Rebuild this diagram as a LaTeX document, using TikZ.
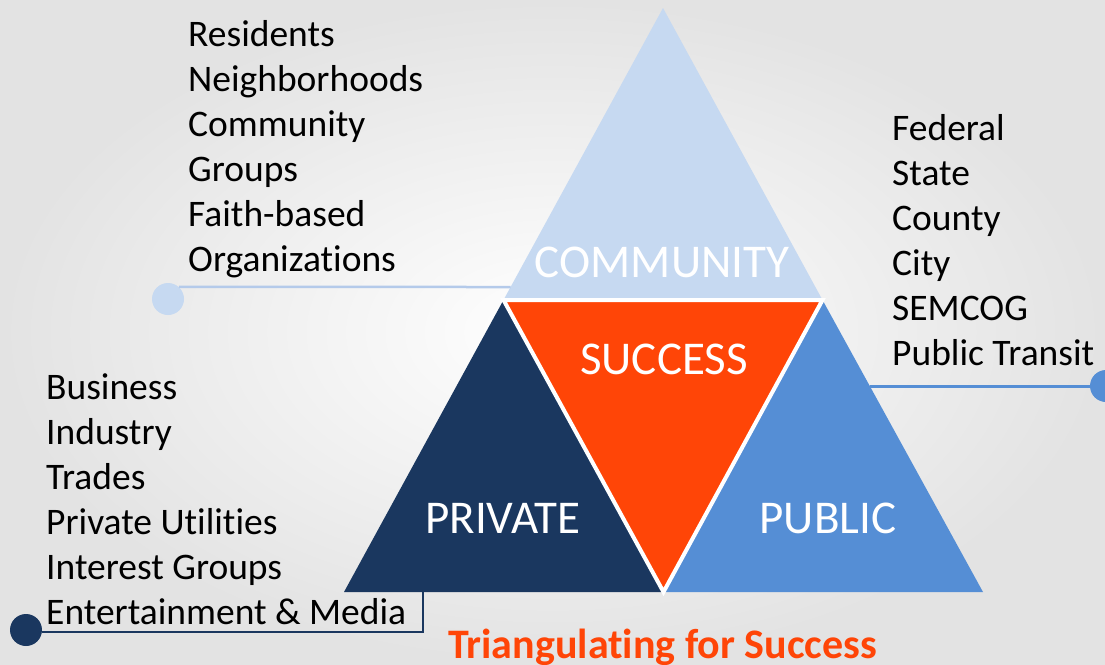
\documentclass[tikz,border=0pt]{standalone}
\usepackage{fontspec}
\setmainfont{Carlito}[Ligatures=NoCommon]
\definecolor{commblue}{HTML}{C6D9F1}
\definecolor{commline}{HTML}{B4CAEA}
\definecolor{pubblue}{HTML}{558ED5}
\definecolor{privnavy}{HTML}{1A375F}
\definecolor{succorange}{HTML}{FF4507}
\begin{document}
\begin{tikzpicture}[x=1pt,y=-1pt,
  listtext/.style={anchor=north west, align=left, inner sep=0pt, text=black,
    font=\fontsize{37.5}{45}\selectfont},
  label/.style={anchor=base, inner sep=0pt, text=white, font=\fontsize{47}{50}\selectfont},
  dot/.style={circle, minimum size=32pt, inner sep=0pt, draw=none},
  link/.style={line width=2.5pt}]
% page background
\shade[inner color=white, outer color=black!11] (0,0) rectangle (1105,664);
\useasboundingbox (0,0) rectangle (1105,664);

% triangle corners
\coordinate (A)  at (663,8);
\coordinate (L)  at (344,592);
\coordinate (R)  at (983,592);
\coordinate (ML) at (503.5,300);
\coordinate (MR) at (822.5,300);
\coordinate (MB) at (663.5,592);

% the four triangles
\fill[commblue] (A) -- (ML) -- (MR) -- cycle;
\fill[privnavy] (L) -- (ML) -- (MB) -- cycle;
\fill[pubblue]  (MB) -- (MR) -- (R) -- cycle;
\filldraw[fill=succorange, draw=white, line width=4pt] (ML) -- (MR) -- (MB) -- cycle;

% labels inside the triangles
\node[label] (comm) at (662,277) {COMMUNITY};
\node[label] (succ) at (664,374) {SUCCESS};
\node[label] (priv) at (503,533) {PRIVATE};
\node[label] (publ) at (828,533) {PUBLIC};

% stakeholder lists
\node[listtext] (commlist) at (188,20)
  {Residents\\Neighborhoods\\Community\\Groups\\Faith-based\\Organizations};
\node[listtext] (publist) at (892,114)
  {Federal\\State\\County\\City\\SEMCOG\\Public Transit};
\node[listtext] (privlist) at (46,373)
  {Business\\Industry\\Trades\\Private Utilities\\Interest Groups\\Entertainment \& Media};

% callout dots and leader lines
\node[dot, fill=commblue] (commdot) at (168,299) {};
\node[dot, fill=pubblue]  (pubdot)  at (1106,386) {};
\node[dot, fill=privnavy] (privdot) at (26,630) {};

\coordinate (commedge) at (510.6,287);
\coordinate (pubedge)  at (869.8,386);
\coordinate (privcorner) at (423,632);
\coordinate (privedge) at (423,592);

\draw[link, draw=commline] (commdot.48.6) -- (commedge);
\draw[link, draw=pubblue, line width=3pt] (pubedge) -- (pubdot.west);
\draw[link, draw=privnavy] (privdot.east |- privcorner) -- (privcorner) -- (privedge);

% caption
\node[anchor=base, inner sep=0pt, text=succorange, font=\fontsize{42}{46}\selectfont\bfseries]
  (caption) at (662.5,658) {Triangulating for Success};
\end{tikzpicture}
\end{document}
